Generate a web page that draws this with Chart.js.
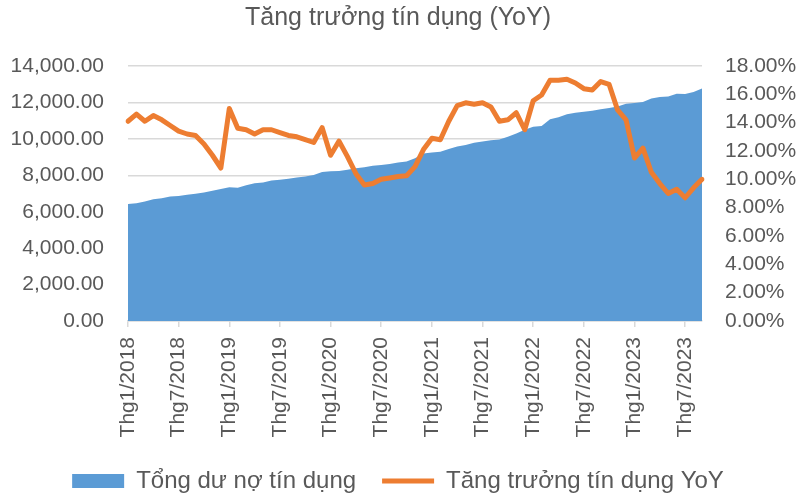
<!DOCTYPE html>
<html>
<head>
<meta charset="utf-8">
<script src="https://cdn.jsdelivr.net/npm/chart.js@4.4.1/dist/chart.umd.min.js"></script>
<style>
  body { margin: 0; background: #fff; }
</style>
</head>
<body>
<canvas id="myChart" width="796" height="496"></canvas>
<script>
// data
const months = [
  'Thg1/2018', 'Thg2/2018', 'Thg3/2018', 'Thg4/2018', 'Thg5/2018', 'Thg6/2018', 'Thg7/2018', 'Thg8/2018', 'Thg9/2018', 'Thg10/2018', 'Thg11/2018', 'Thg12/2018',
  'Thg1/2019', 'Thg2/2019', 'Thg3/2019', 'Thg4/2019', 'Thg5/2019', 'Thg6/2019', 'Thg7/2019', 'Thg8/2019', 'Thg9/2019', 'Thg10/2019', 'Thg11/2019', 'Thg12/2019',
  'Thg1/2020', 'Thg2/2020', 'Thg3/2020', 'Thg4/2020', 'Thg5/2020', 'Thg6/2020', 'Thg7/2020', 'Thg8/2020', 'Thg9/2020', 'Thg10/2020', 'Thg11/2020', 'Thg12/2020',
  'Thg1/2021', 'Thg2/2021', 'Thg3/2021', 'Thg4/2021', 'Thg5/2021', 'Thg6/2021', 'Thg7/2021', 'Thg8/2021', 'Thg9/2021', 'Thg10/2021', 'Thg11/2021', 'Thg12/2021',
  'Thg1/2022', 'Thg2/2022', 'Thg3/2022', 'Thg4/2022', 'Thg5/2022', 'Thg6/2022', 'Thg7/2022', 'Thg8/2022', 'Thg9/2022', 'Thg10/2022', 'Thg11/2022', 'Thg12/2022',
  'Thg1/2023', 'Thg2/2023', 'Thg3/2023', 'Thg4/2023', 'Thg5/2023', 'Thg6/2023', 'Thg7/2023', 'Thg8/2023', 'Thg9/2023'
];

const tickLabels = ['Thg1/2018', 'Thg7/2018', 'Thg1/2019', 'Thg7/2019', 'Thg1/2020', 'Thg7/2020',
  'Thg1/2021', 'Thg7/2021', 'Thg1/2022', 'Thg7/2022', 'Thg1/2023', 'Thg7/2023'];

// Tổng dư nợ tín dụng (nghìn tỷ)
const creditTotal = [
  6420, 6460, 6560, 6680, 6740, 6840, 6860, 6930, 6990, 7050, 7150, 7250,
  7350, 7310, 7450, 7560, 7610, 7720, 7760, 7810, 7880, 7940, 8010, 8180,
  8220, 8240, 8310, 8380, 8440, 8520, 8570, 8620, 8700, 8760, 8930, 9200,
  9250, 9295, 9450, 9580, 9660, 9790, 9860, 9920, 9970, 10120, 10300, 10500,
  10670, 10710, 11070, 11180, 11350, 11440, 11490, 11540, 11630, 11690, 11780, 11930,
  11970, 12020, 12220, 12300, 12330, 12480, 12460, 12570, 12760
];

// Tăng trưởng YoY (%)
const creditGrowth = [
  14.1, 14.6, 14.1, 14.5, 14.2, 13.8, 13.4, 13.2, 13.1, 12.5, 11.7, 10.8,
  15.0, 13.6, 13.5, 13.2, 13.5, 13.5, 13.3, 13.1, 13.0, 12.8, 12.6, 13.65,
  11.7, 12.7, 11.6, 10.4, 9.6, 9.7, 10.0, 10.1, 10.2, 10.25, 10.9, 12.1,
  12.9, 12.8, 14.1, 15.2, 15.4, 15.3, 15.4, 15.1, 14.1, 14.2, 14.7, 13.5,
  15.55, 15.95, 17.0, 17.0, 17.06, 16.8, 16.4, 16.3, 16.9, 16.7, 14.9, 14.2,
  11.5, 12.2, 10.5, 9.7, 9.0, 9.3, 8.7, 9.4, 10.0
];

const leftTicks = [0, 2000, 4000, 6000, 8000, 10000, 12000, 14000];
const rightTicks = [0, 2, 4, 6, 8, 10, 12, 14, 16, 18];

Chart.defaults.font.family = "'Liberation Sans', Arial, sans-serif";
Chart.defaults.color = '#595959';

// setup
const data = {
  labels: months,
  datasets: [{
    label: 'Tổng dư nợ tín dụng',
    data: creditTotal,
    yAxisID: 'y',
    fill: 'origin',
    backgroundColor: '#5b9bd5',
    borderColor: '#5b9bd5',
    borderWidth: 0,
    pointRadius: 0,
    pointStyle: 'rect',
    order: 1
  },
  {
    label: 'Tăng trưởng tín dụng YoY',
    data: creditGrowth,
    yAxisID: 'y1',
    fill: false,
    backgroundColor: '#ed7d31',
    borderColor: '#ed7d31',
    borderWidth: 5,
    borderJoinStyle: 'round',
    borderCapStyle: 'round',
    pointRadius: 0,
    pointStyle: 'line',
    order: 0
  }]
};

// config
const config = {
  type: 'line',
  data,
  options: {
    responsive: false,
    animation: false,
    layout: { padding: { left: 0, right: 0, top: 0, bottom: -7 } },
    plugins: {
      tooltip: { enabled: false },
      title: {
        display: true,
        text: 'Tăng trưởng tín dụng (YoY)',
        font: { size: 25, weight: 'normal' },
        color: '#595959',
        padding: { top: 3, bottom: 33 }
      },
      legend: {
        position: 'bottom',
        labels: {
          usePointStyle: true,
          pointStyleWidth: 52,
          boxHeight: 14,
          padding: 26,
          font: { size: 24 },
          color: '#595959',
          sort: (a, b) => a.datasetIndex - b.datasetIndex
        }
      }
    },
    scales: {
      x: {
        offset: false,
        border: { display: true, color: '#d9d9d9', width: 1.5 },
        grid: {
          drawOnChartArea: false,
          drawTicks: true,
          tickLength: 6,
          lineWidth: 1.5,
          color: (ctx) => tickLabels.includes(months[ctx.index]) ? '#d9d9d9' : 'rgba(0,0,0,0)'
        },
        ticks: {
          autoSkip: false,
          minRotation: 90,
          maxRotation: 90,
          padding: 10,
          font: { size: 21 },
          callback: (v, i) => tickLabels.includes(months[i]) ? months[i] : ''
        },
        afterFit: (scale) => { scale.height = 122; }
      },
      y: {
        position: 'left',
        min: 0,
        max: 14000,
        border: { display: false },
        grid: { color: '#d9d9d9', lineWidth: 1.5, drawTicks: false },
        ticks: {
          stepSize: 2000,
          padding: 24,
          font: { size: 21 },
          callback: (v) => leftTicks.includes(v) ? v.toLocaleString('en-US', { minimumFractionDigits: 2, maximumFractionDigits: 2 }) : ''
        },
        afterFit: (scale) => { scale.width = 128; }
      },
      y1: {
        position: 'right',
        min: 0,
        max: 18,
        border: { display: false },
        grid: { drawOnChartArea: false, drawTicks: false },
        ticks: {
          stepSize: 2,
          padding: 23,
          font: { size: 21 },
          callback: (v) => rightTicks.includes(v) ? v.toFixed(2) + '%' : ''
        },
        afterFit: (scale) => { scale.width = 94; }
      }
    }
  }
};

// render init block
const myChart = new Chart(
  document.getElementById('myChart'),
  config
);
</script>
</body>
</html>
